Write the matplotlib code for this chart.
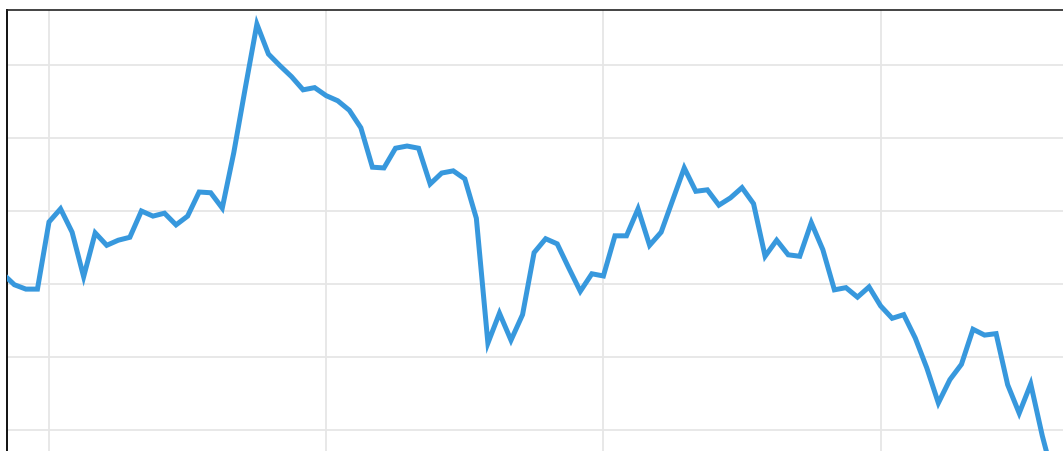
import matplotlib
matplotlib.use("Agg")
import matplotlib.pyplot as plt
import numpy as np

# Series values (index positions, arbitrary units)
values = [
    121.4, 119.9, 119.3, 119.3, 128.5, 130.3, 127.1, 121.0, 127.0, 125.3,
    126.0, 126.4, 130.0, 129.3, 129.7, 128.1, 129.3, 132.6, 132.5, 130.4,
    138.0, 146.9, 155.6, 151.5, 149.9, 148.4, 146.6, 146.9, 145.8, 145.1,
    143.8, 141.4, 136.0, 135.9, 138.6, 138.9, 138.6, 133.7, 135.2, 135.5,
    134.4, 129.0, 111.9, 116.0, 112.3, 115.8, 124.3, 126.2, 125.5, 122.2,
    119.0, 121.4, 121.1, 126.6, 126.6, 130.3, 125.3, 127.1, 131.5, 135.9,
    132.7, 132.9, 130.8, 131.8, 133.2, 131.0, 123.8, 126.0, 124.0, 123.8,
    128.4, 124.7, 119.2, 119.5, 118.2, 119.6, 117.0, 115.3, 115.8, 112.6,
    108.5, 103.7, 106.9, 109.0, 113.8, 113.0, 113.2, 106.2, 102.3, 106.3,
    99.2, 93.2,
]
x_grid = [4, 28, 52, 76]
y_grid = [100, 110, 120, 130, 140, 150]

W, H = 1063, 451
fig = plt.figure(figsize=(W / 100, H / 100), dpi=100)
fig.patch.set_facecolor("white")

left_px, right_px, top_px, bot_px = 6.5, float(W), 10.0, float(H)
ax = fig.add_axes([left_px / W, (H - bot_px) / H,
                   (right_px - left_px) / W, (bot_px - top_px) / H])

x0_px, step_px = 2.8, 11.55
y0_px, ystep = 430.0, 7.3
ax.set_xlim((left_px - x0_px) / step_px, (right_px - x0_px) / step_px)
ax.set_ylim(100 - (bot_px - y0_px) / ystep, 100 + (y0_px - top_px) / ystep)

x = np.arange(len(values))
ax.plot(x, values, color="#3798dd", linewidth=3.6, solid_joinstyle="miter",
        solid_capstyle="butt", zorder=3)

ax.set_xticks(x_grid)
ax.set_yticks(y_grid)
ax.tick_params(length=0, labelbottom=False, labelleft=False)
ax.grid(True, color="#e6e6e6", linewidth=1.3)
ax.set_axisbelow(True)

for s in ["right", "bottom"]:
    ax.spines[s].set_visible(False)
ax.spines["left"].set_color("#111111")
ax.spines["left"].set_linewidth(1.4)
ax.spines["top"].set_color("#222222")
ax.spines["top"].set_linewidth(1.2)

fig.savefig("out.png", dpi=100)
